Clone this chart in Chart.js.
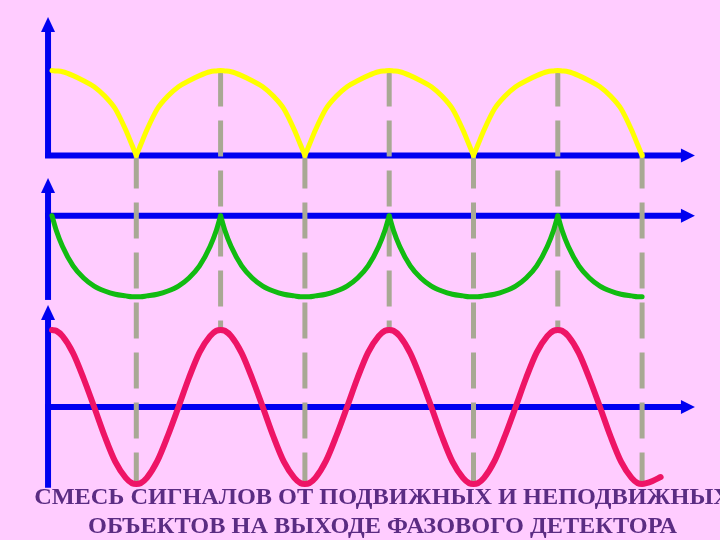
<!DOCTYPE html>
<html>
<head>
<meta charset="utf-8">
<script src="https://cdn.jsdelivr.net/npm/chart.js@4.4.1/dist/chart.umd.min.js"></script>
<style>
html, body { margin: 0; padding: 0; background: #FFCCFF; }
#wrap { width: 720px; height: 540px; }
</style>
</head>
<body>
<div id="wrap"><canvas id="myChart" width="720" height="540"></canvas></div>
<script>
// time axis in half-periods: yellow peaks at even, cusps at odd
const times = [
    0, 0.05, 0.125, 0.25, 0.375, 0.5, 0.625, 0.75, 0.875, 0.95,
    1, 1.05, 1.125, 1.25, 1.375, 1.5, 1.625, 1.75, 1.875, 1.95,
    2, 2.05, 2.125, 2.25, 2.375, 2.5, 2.625, 2.75, 2.875, 2.95,
    3, 3.05, 3.125, 3.25, 3.375, 3.5, 3.625, 3.75, 3.875, 3.95,
    4, 4.05, 4.125, 4.25, 4.375, 4.5, 4.625, 4.75, 4.875, 4.95,
    5, 5.05, 5.125, 5.25, 5.375, 5.5, 5.625, 5.75, 5.875, 5.95,
    6, 6.05, 6.125, 6.25, 6.375, 6.5, 6.625, 6.75, 6.875, 6.95,
    7
];

// top signal (yellow)
const yellowValues = [
    1, 0.995, 0.985, 0.94, 0.88, 0.81, 0.70, 0.55, 0.30, 0.12,
    0, 0.12, 0.30, 0.55, 0.70, 0.81, 0.88, 0.94, 0.985, 0.995,
    1, 0.995, 0.985, 0.94, 0.88, 0.81, 0.70, 0.55, 0.30, 0.12,
    0, 0.12, 0.30, 0.55, 0.70, 0.81, 0.88, 0.94, 0.985, 0.995,
    1, 0.995, 0.985, 0.94, 0.88, 0.81, 0.70, 0.55, 0.30, 0.12,
    0, 0.12, 0.30, 0.55, 0.70, 0.81, 0.88, 0.94, 0.985, 0.995,
    1, 0.995, 0.985, 0.94, 0.88, 0.81, 0.70, 0.55, 0.30, 0.12,
    0
];
const yellowBreaks = [1, 3, 5];

// middle signal (green)
const greenValues = [
    0, -0.18, -0.38, -0.62, -0.77, -0.87, -0.93, -0.97, -0.99, -1,
    -1, -1, -0.99, -0.97, -0.93, -0.87, -0.77, -0.62, -0.38, -0.18,
    0, -0.18, -0.38, -0.62, -0.77, -0.87, -0.93, -0.97, -0.99, -1,
    -1, -1, -0.99, -0.97, -0.93, -0.87, -0.77, -0.62, -0.38, -0.18,
    0, -0.18, -0.38, -0.62, -0.77, -0.87, -0.93, -0.97, -0.99, -1,
    -1, -1, -0.99, -0.97, -0.93, -0.87, -0.77, -0.62, -0.38, -0.18,
    0, -0.18, -0.38, -0.62, -0.77, -0.87, -0.93, -0.97, -0.99, -1,
    -1
];
const greenBreaks = [2, 4, 6];

// bottom signal (red), runs a little past the last trough
const redValues = [
    1, 0.99, 0.92, 0.70, 0.37, 0, -0.38, -0.71, -0.92, -0.99,
    -1, -0.99, -0.92, -0.70, -0.37, 0, 0.38, 0.71, 0.92, 0.99,
    1, 0.99, 0.92, 0.70, 0.37, 0, -0.38, -0.71, -0.92, -0.99,
    -1, -0.99, -0.92, -0.70, -0.37, 0, 0.38, 0.71, 0.92, 0.99,
    1, 0.99, 0.92, 0.70, 0.37, 0, -0.38, -0.71, -0.92, -0.99,
    -1, -0.99, -0.92, -0.70, -0.37, 0, 0.38, 0.71, 0.92, 0.99,
    1, 0.99, 0.92, 0.70, 0.37, 0, -0.38, -0.71, -0.92, -0.99,
    -1
];
const redTailTimes = [7.05, 7.125, 7.22];
const redTailValues = [-0.99, -0.96, -0.91];

const dashTimes = [1, 2, 3, 4, 5, 6, 7];

const captionLines = [
    "СМЕСЬ СИГНАЛОВ ОТ ПОДВИЖНЫХ И НЕПОДВИЖНЫХ",
    "ОБЪЕКТОВ НА ВЫХОДЕ ФАЗОВОГО ДЕТЕКТОРА"
];

const W = 720, H = 540;
const xOriginPx = 52, xUnitPx = 84.3;

// y range so that value 0 sits on basePx and 1 unit = unitPx pixels
function yRange(basePx, unitPx) {
    return { min: (basePx - H) / unitPx, max: basePx / unitPx };
}

function buildPoints(ts, vs, breaks) {
    const pts = [];
    ts.forEach((t, i) => {
        pts.push({ x: t, y: vs[i] });
        if (breaks.includes(t)) {
            pts.push({ x: t, y: null });
            pts.push({ x: t, y: vs[i] });
        }
    });
    return pts;
}

const axisColor = '#0000F0';
const panels = [
    { scale: 'yY', top: 1.63, bottom: -0.025 },
    { scale: 'yG', top: 0.465, bottom: -1.04 },
    { scale: 'yR', top: 1.325, bottom: -1.05 }
];
const axisStartT = -0.047, axisTipT = 7.627;

const diagramPlugin = {
    id: 'diagram',
    beforeDatasetsDraw(chart) {
        const ctx = chart.ctx;
        const xs = chart.scales.x;
        const x0 = xs.getPixelForValue(axisStartT);
        const xTip = xs.getPixelForValue(axisTipT);
        ctx.save();
        ctx.strokeStyle = axisColor;
        ctx.fillStyle = axisColor;
        ctx.lineWidth = 6;
        ctx.lineCap = 'butt';
        for (const p of panels) {
            const s = chart.scales[p.scale];
            const yTop = s.getPixelForValue(p.top);
            const yBot = s.getPixelForValue(p.bottom);
            const yBase = s.getPixelForValue(0);
            ctx.beginPath();
            ctx.moveTo(x0, yBot);
            ctx.lineTo(x0, yTop + 12);
            ctx.stroke();
            ctx.beginPath();
            ctx.moveTo(x0, yTop);
            ctx.lineTo(x0 - 7, yTop + 15);
            ctx.lineTo(x0 + 7, yTop + 15);
            ctx.closePath();
            ctx.fill();
            ctx.beginPath();
            ctx.moveTo(x0 - 3, yBase);
            ctx.lineTo(xTip - 10, yBase);
            ctx.stroke();
            ctx.beginPath();
            ctx.moveTo(xTip, yBase);
            ctx.lineTo(xTip - 14, yBase - 7);
            ctx.lineTo(xTip - 14, yBase + 7);
            ctx.closePath();
            ctx.fill();
        }
        // gray dashed markers from yellow curve down to red curve
        const sy = chart.scales.yY, sr = chart.scales.yR;
        ctx.strokeStyle = '#A8A894';
        ctx.lineWidth = 5;
        ctx.setLineDash([36, 14]);
        for (const t of dashTimes) {
            const i = times.indexOf(t);
            const x = xs.getPixelForValue(t);
            const top = sy.getPixelForValue(yellowValues[i]);
            const bot = sr.getPixelForValue(redValues[i]);
            ctx.beginPath();
            ctx.moveTo(x, yellowValues[i] > 0.5 ? top : top - 3);
            ctx.lineTo(x, bot);
            ctx.stroke();
        }
        ctx.restore();
    },
    afterDatasetsDraw(chart) {
        const ctx = chart.ctx;
        ctx.save();
        ctx.font = 'bold 24px "Liberation Serif"';
        ctx.fillStyle = '#5B2C83';
        ctx.textAlign = 'center';
        ctx.textBaseline = 'alphabetic';
        const w2 = ctx.measureText(captionLines[1]).width;
        const sx = 589 / w2;
        ctx.translate(382.5, 0);
        ctx.scale(sx, 1);
        ctx.fillText(captionLines[0], 0, 503.5);
        ctx.fillText(captionLines[1], 0, 533);
        ctx.restore();
    }
};

const ctx = document.getElementById('myChart').getContext('2d');
const lineOpts = {
    showLine: true,
    pointRadius: 0,
    fill: false,
    spanGaps: false,
    cubicInterpolationMode: 'monotone',
    borderCapStyle: 'round',
    borderJoinStyle: 'round'
};

const myChart = new Chart(ctx, {
    type: 'line',
    data: {
        datasets: [
            Object.assign({
                label: 'yellow',
                data: buildPoints(times, yellowValues, yellowBreaks),
                borderColor: '#FFFF00',
                borderWidth: 5,
                yAxisID: 'yY'
            }, lineOpts),
            Object.assign({
                label: 'green',
                data: buildPoints(times, greenValues, greenBreaks),
                borderColor: '#11BB11',
                borderWidth: 5,
                yAxisID: 'yG'
            }, lineOpts),
            Object.assign({
                label: 'red',
                data: buildPoints(times.concat(redTailTimes), redValues.concat(redTailValues), []),
                borderColor: '#EE1466',
                borderWidth: 6,
                yAxisID: 'yR'
            }, lineOpts)
        ]
    },
    options: {
        responsive: false,
        animation: false,
        layout: { padding: 0 },
        plugins: {
            legend: { display: false },
            tooltip: { enabled: false },
            title: { display: false }
        },
        scales: {
            x: {
                type: 'linear',
                display: false,
                min: -xOriginPx / xUnitPx,
                max: (W - xOriginPx) / xUnitPx
            },
            yY: Object.assign({ type: 'linear', display: false }, yRange(155.5, 85)),
            yG: Object.assign({ type: 'linear', display: false }, yRange(215.7, 81)),
            yR: Object.assign({ type: 'linear', display: false }, yRange(407, 77))
        }
    },
    plugins: [diagramPlugin]
});
</script>
</body>
</html>
